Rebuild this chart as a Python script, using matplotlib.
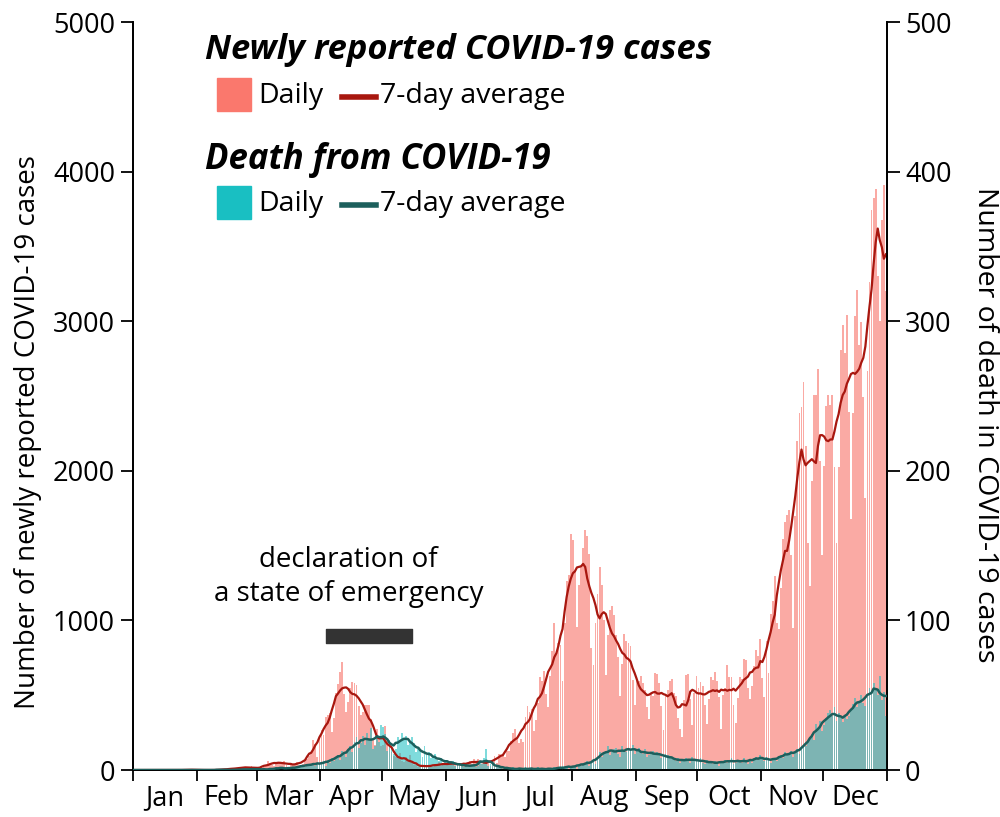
import matplotlib.pyplot as plt
import matplotlib.patches as mpatches
import matplotlib.lines as mlines
import numpy as np
import pandas as pd

plt.rcParams['font.family'] = ['Open Sans', 'DejaVu Sans']

months = ['Jan', 'Feb', 'Mar', 'Apr', 'May', 'Jun',
          'Jul', 'Aug', 'Sep', 'Oct', 'Nov', 'Dec']
month_days = [31, 29, 31, 30, 31, 30, 31, 31, 30, 31, 30, 31]

# daily newly reported cases, 2020
cases_jan = [0] * 15 + [1, 0, 0, 0, 0, 0, 0, 0, 1, 1, 1, 0, 3, 1, 4, 3]
cases_feb = [2, 0, 0, 0, 1, 0, 0, 0, 1, 0, 0, 0, 4, 8, 9, 5, 6, 5, 12, 11,
             15, 16, 18, 15, 14, 21, 24, 11, 9]
cases_mar = [15, 8, 14, 20, 33, 59, 47, 35, 27, 54, 52, 56, 55, 62, 31, 15,
             44, 43, 39, 53, 36, 36, 40, 68, 74, 97, 112, 200, 173, 86, 225]
cases_apr = [266, 235, 353, 367, 383, 252, 351, 515, 576, 658, 720, 507, 390,
             455, 549, 587, 584, 568, 428, 371, 388, 437, 437, 435, 344, 201,
             169, 275, 217, 160]
cases_may = [165, 294, 203, 174, 123, 96, 84, 88, 114, 58, 56, 84, 55, 99, 56,
             36, 31, 23, 31, 31, 24, 20, 31, 23, 21, 38, 36, 51, 26, 40, 39]
cases_jun = [37, 51, 40, 46, 37, 45, 46, 25, 40, 38, 41, 61, 40, 72, 48, 72,
             41, 41, 70, 39, 56, 27, 58, 96, 48, 105, 92, 110, 86, 130]
cases_jul = [124, 196, 250, 274, 208, 178, 207, 190, 355, 429, 385, 408, 259,
             332, 450, 622, 594, 663, 509, 419, 631, 795, 981, 768, 849, 839,
             598, 981, 1264, 1301, 1580]
cases_aug = [1536, 1331, 958, 1236, 1354, 1485, 1605, 1565, 1442, 815, 700,
             985, 1177, 1360, 1236, 1006, 632, 902, 1071, 1095, 1035, 904, 755,
             495, 706, 906, 864, 852, 829, 599, 433]
cases_sep = [599, 593, 630, 579, 533, 418, 339, 509, 497, 650, 641, 583, 431,
             269, 502, 533, 592, 608, 517, 498, 346, 271, 218, 467, 636, 645,
             478, 303, 517, 628]
cases_oct = [547, 586, 562, 438, 307, 477, 619, 599, 655, 593, 486, 271, 504,
             549, 703, 625, 619, 437, 315, 484, 623, 611, 739, 738, 551, 473,
             564, 697, 802, 764, 874]
cases_nov = [612, 489, 862, 649, 1044, 1127, 1299, 982, 946, 1217, 1547, 1660,
             1707, 1738, 1438, 949, 1699, 2201, 2388, 2427, 2596, 2168, 1517,
             1228, 1935, 2504, 2510, 2684, 2067, 1438]
cases_dec = [2030, 2433, 2510, 2442, 2510, 2028, 1516, 2028, 2810, 2973, 2788,
             3041, 2392, 1680, 2386, 3032, 3211, 2843, 2993, 2494, 1817, 2667,
             3263, 3744, 3823, 3881, 3300, 3000, 3680, 3910, 3200]

# daily deaths, 2020
deaths_jan = [0] * 31
deaths_feb = [0] * 12 + [1, 0, 0, 0, 0, 0, 0, 0, 1, 0, 0, 1, 0, 1, 0, 1, 0]
deaths_mar = [1, 1, 0, 1, 0, 0, 1, 0, 1, 2, 1, 1, 2, 1, 2, 1, 0, 1, 2, 2,
              3, 2, 3, 2, 4, 3, 4, 5, 3, 4, 5]
deaths_apr = [4, 6, 3, 7, 5, 8, 6, 9, 10, 7, 13, 11, 9, 14, 16, 12, 19, 22,
              15, 18, 23, 17, 25, 20, 28, 14, 16, 22, 19, 30]
deaths_may = [29, 24, 13, 20, 16, 11, 14, 22, 19, 25, 21, 23, 17, 19, 22, 18,
              12, 14, 13, 9, 16, 10, 12, 8, 9, 11, 7, 6, 8, 5, 7]
deaths_jun = [6, 5, 4, 6, 3, 5, 4, 3, 2, 4, 3, 2, 3, 4, 2, 3, 5, 4, 8, 14,
              3, 4, 5, 2, 3, 2, 3, 1, 2, 1]
deaths_jul = [1, 0, 2, 1, 0, 1, 0, 1, 2, 1, 0, 1, 0, 1, 2, 0, 1, 1, 0, 1,
              0, 1, 2, 1, 0, 1, 3, 2, 2, 1, 3]
deaths_aug = [2, 3, 1, 4, 3, 5, 4, 6, 3, 5, 7, 4, 8, 12, 9, 11, 13, 16, 10, 12,
              14, 15, 11, 9, 16, 13, 12, 15, 14, 17, 11]
deaths_sep = [13, 15, 12, 11, 14, 9, 10, 12, 13, 11, 12, 10, 8, 9, 11, 10, 8,
              9, 7, 6, 8, 5, 7, 6, 8, 7, 5, 9, 6, 7]
deaths_oct = [6, 8, 5, 4, 7, 6, 5, 4, 6, 5, 3, 5, 6, 7, 5, 6, 8, 4, 5, 7, 6,
              5, 8, 6, 4, 7, 5, 8, 9, 7, 10]
deaths_nov = [8, 6, 9, 7, 5, 8, 7, 6, 9, 10, 8, 12, 11, 10, 13, 9, 12, 14, 11,
              15, 17, 16, 19, 21, 24, 20, 31, 28, 33, 26]
deaths_dec = [30, 35, 38, 40, 36, 42, 33, 38, 35, 32, 37, 34, 36, 41, 44, 48,
              42, 46, 50, 45, 43, 49, 55, 52, 58, 54, 50, 63, 47, 52, 36]

# state of emergency (day of year, 0 = Jan 1)
emergency_start = 93
emergency_end = 135

cases = (cases_jan + cases_feb + cases_mar + cases_apr + cases_may + cases_jun
         + cases_jul + cases_aug + cases_sep + cases_oct + cases_nov + cases_dec)
deaths = (deaths_jan + deaths_feb + deaths_mar + deaths_apr + deaths_may
          + deaths_jun + deaths_jul + deaths_aug + deaths_sep + deaths_oct
          + deaths_nov + deaths_dec)

days = np.arange(len(cases))
cases_avg = pd.Series(cases).rolling(7, center=True, min_periods=1).mean()
deaths_avg = pd.Series(deaths).rolling(7, center=True, min_periods=1).mean()

pink = '#F8766D'
teal = '#17BEC0'
red_line = '#A8170F'
teal_line = '#1C5F5C'

fig = plt.figure(figsize=(10, 8.17), dpi=100)
ax = fig.add_axes([0.133, 0.0575, 0.754, 0.9155])
ax.bar(days, cases, width=0.9, color=pink, alpha=0.62, linewidth=0, zorder=1)

ax2 = ax.twinx()
ax2.bar(days, deaths, width=0.9, color=teal, alpha=0.55, linewidth=0, zorder=1)
ax2.plot(days, cases_avg, color=red_line, lw=1.6, transform=ax.transData, zorder=2)
ax2.plot(days, deaths_avg, color=teal_line, lw=1.8, zorder=3)

ax.set_xlim(-0.5, len(cases) - 0.5)
ax.set_ylim(0, 5000)
ax2.set_ylim(0, 500)

starts = np.cumsum([0] + month_days)
mids = (starts[:-1] + starts[1:]) / 2 - 0.5
ax.set_xticks(starts - 0.5)
ax.set_xticklabels([])
ax.set_xticks(mids, minor=True)
ax.set_xticklabels(months, minor=True)
ax.tick_params(axis='x', which='major', length=8, width=1.3)
ax.tick_params(axis='x', which='minor', length=0, labelsize=19.5, pad=10)

ax.set_yticks(range(0, 5001, 1000))
ax2.set_yticks(range(0, 501, 100))
ax.tick_params(axis='y', labelsize=19.5, length=9, width=1.3, pad=4)
ax2.tick_params(axis='y', labelsize=19.5, length=9, width=1.3, pad=4)

for a in (ax, ax2):
    a.spines['top'].set_visible(False)
    for s in ('left', 'right', 'bottom'):
        a.spines[s].set_linewidth(1.3)

ax.set_ylabel('Number of newly reported COVID-19 cases', fontsize=20, va='center')
ax.yaxis.set_label_coords(-0.139, 0.452)
ax2.set_ylabel('Number of death in COVID-19 cases', fontsize=20.5, rotation=270,
               va='center')
ax2.yaxis.set_label_coords(1.13, 0.461)

# state of emergency
ax.broken_barh([(emergency_start, emergency_end - emergency_start)], (850, 95),
               color='#333333', zorder=4)
ax.text(104, 1290, 'declaration of\na state of emergency', ha='center',
        va='center', fontsize=20, linespacing=1.3)

# legend
def fx(px):
    return px / 1000


def fy(py):
    return 1 - py / 817


fig.text(fx(205), fy(50), 'Newly reported COVID-19 cases', fontsize=24.8,
         fontweight='bold', style='italic', va='center')
fig.add_artist(mpatches.Rectangle((fx(217), fy(111)), fx(34), 33 / 817,
                                  transform=fig.transFigure, color='#FA786D'))
fig.text(fx(258), fy(96), 'Daily', fontsize=20.5, va='center')
fig.add_artist(mlines.Line2D([fx(342), fx(376)], [fy(97), fy(97)], lw=4,
                             color=red_line, transform=fig.transFigure))
fig.text(fx(380), fy(96), '7-day average', fontsize=20.5, va='center')

fig.text(fx(205), fy(160), 'Death from COVID-19', fontsize=25,
         fontweight='bold', style='italic', va='center')
fig.add_artist(mpatches.Rectangle((fx(217), fy(219)), fx(34), 33 / 817,
                                  transform=fig.transFigure, color='#19BFC2'))
fig.text(fx(258), fy(204), 'Daily', fontsize=20.5, va='center')
fig.add_artist(mlines.Line2D([fx(342), fx(376)], [fy(205), fy(205)], lw=4,
                             color=teal_line, transform=fig.transFigure))
fig.text(fx(380), fy(204), '7-day average', fontsize=20.5, va='center')

plt.savefig('out.png', dpi=100)
